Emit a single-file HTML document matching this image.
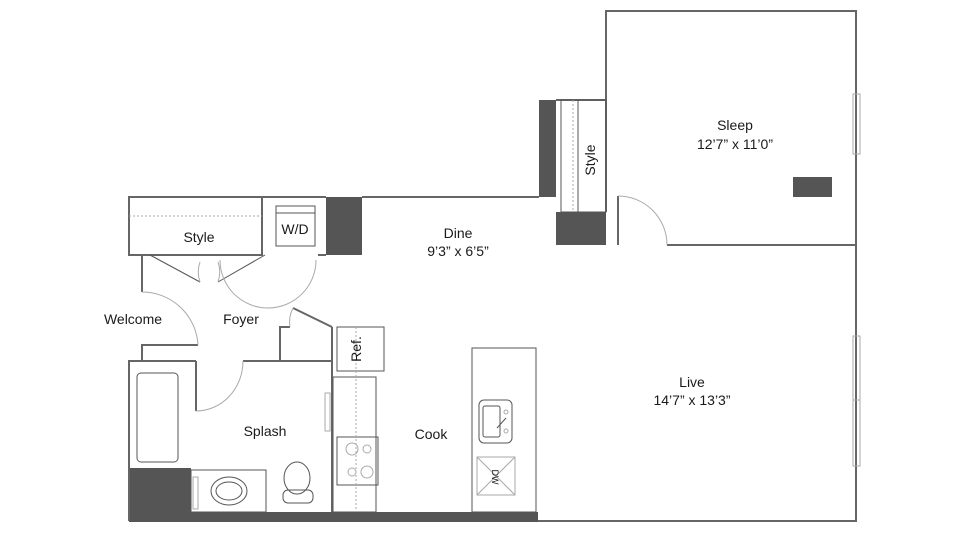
<!DOCTYPE html>
<html><head><meta charset="utf-8"><style>
html,body{margin:0;padding:0;background:#fff}
svg{display:block}
text{font-family:"Liberation Sans",sans-serif;fill:#1a1a1a;font-size:14px;text-anchor:middle}
</style></head><body>
<svg width="960" height="540" viewBox="0 0 960 540" xmlns="http://www.w3.org/2000/svg">
<g fill="#555" stroke="none">
<rect x="326" y="197" width="36" height="58"/>
<rect x="539" y="100" width="17" height="97"/>
<rect x="556" y="212" width="50" height="33"/>
<rect x="191" y="512" width="347" height="10"/>
<rect x="129" y="468" width="62" height="54"/>
<rect x="793" y="177" width="39" height="20"/>
</g>
<g fill="none" stroke="#666" stroke-width="2">
<polyline points="606,100 606,11 856,11 856,521 538,521"/>
<line x1="667" y1="245" x2="856" y2="245"/>
<line x1="362" y1="197" x2="539" y2="197"/>
<polyline points="556,100 606,100"/>
<line x1="606" y1="100" x2="606" y2="212"/>
<line x1="618" y1="196" x2="618" y2="245"/>
<rect x="129" y="197" width="133" height="58"/>
<polyline points="262,197 326,197"/>
<line x1="262" y1="197" x2="262" y2="255"/>
<line x1="318" y1="255" x2="326" y2="255"/>
<line x1="142" y1="255" x2="142" y2="292"/>
<polyline points="142,361 142,345 198,345"/>
<polyline points="129,521 129,361 196,361"/>
<line x1="243" y1="361" x2="332" y2="361"/>
<line x1="196" y1="361" x2="196" y2="411"/>
<polyline points="280,361 280,327 290,327"/>
<line x1="332" y1="327" x2="332" y2="512"/>
<line x1="293" y1="308" x2="332" y2="327"/>
</g>
<g fill="none" stroke="#555" stroke-width="1">
<line x1="150" y1="255" x2="200" y2="282"/>
<line x1="265" y1="255" x2="218" y2="282"/>
<rect x="276" y="206" width="39" height="40"/>
<line x1="276" y1="213" x2="315" y2="213"/>
<rect x="472" y="348" width="64" height="164"/>
<rect x="333" y="377" width="43" height="135"/>
<rect x="337" y="437" width="41" height="48"/>
<rect x="337" y="327" width="47" height="44"/>
<rect x="479" y="400" width="33" height="43" rx="5"/>
<rect x="483" y="406" width="17" height="31" rx="2"/>
<line x1="497" y1="428" x2="506" y2="418"/>
<rect x="137" y="373" width="41" height="89" rx="4"/>
<rect x="191" y="470" width="75" height="42"/>
<ellipse cx="229" cy="491" rx="18" ry="14"/>
<ellipse cx="229" cy="491" rx="13" ry="9"/>
<ellipse cx="297" cy="478" rx="13" ry="16"/>
<rect x="283" y="490" width="30" height="13" rx="5"/>
<rect x="561" y="100" width="45" height="112"/>
<line x1="578" y1="100" x2="578" y2="212"/>
</g>
<g fill="none" stroke="#aaa" stroke-width="1">
<line x1="129" y1="216" x2="262" y2="216" stroke-dasharray="2,2"/>
<path d="M142,292 A56,56 0 0 1 198,345"/>
<path d="M196,411 A47,50 0 0 0 243,361"/>
<path d="M220,260 A48,48 0 0 0 316,260"/>
<path d="M290,327 A30,30 0 0 1 293,308"/>
<path d="M200,282 A30,30 0 0 1 200,262"/>
<path d="M218,282 A30,30 0 0 0 218,262"/>
<path d="M618,196 A49,49 0 0 1 667,245"/>
<line x1="356" y1="327" x2="356" y2="512" stroke-dasharray="2,2"/>
<line x1="573" y1="100" x2="573" y2="212" stroke-dasharray="2,2"/>
<rect x="477" y="457" width="38" height="38"/>
<line x1="477" y1="457" x2="515" y2="495"/><line x1="515" y1="457" x2="477" y2="495"/>
<circle cx="352" cy="449" r="6"/><circle cx="367" cy="449" r="4"/>
<circle cx="352" cy="472" r="4"/><circle cx="367" cy="472" r="6"/>
<circle cx="506" cy="412" r="2"/><circle cx="506" cy="431" r="2"/>
<rect x="853" y="94" width="7" height="60"/>
<rect x="853" y="336" width="7" height="130"/>
<line x1="853" y1="400" x2="860" y2="400"/>
<rect x="325" y="393" width="5" height="38"/>
<rect x="193" y="477" width="5" height="32"/>
</g>
<text x="735" y="130">Sleep</text>
<text x="735" y="149">12’7” x 11’0”</text>
<text x="458" y="238">Dine</text>
<text x="458" y="256">9’3” x 6’5”</text>
<text x="692" y="387">Live</text>
<text x="692" y="405">14’7” x 13’3”</text>
<text x="199" y="242">Style</text>
<text x="295" y="234">W/D</text>
<text x="133" y="324">Welcome</text>
<text x="241" y="324">Foyer</text>
<text x="265" y="436">Splash</text>
<text x="431" y="439">Cook</text>
<text transform="translate(361,349) rotate(-90)">Ref.</text>
<text transform="translate(595,160) rotate(-90)">Style</text>
<text transform="translate(492,477) rotate(90)" style="font-size:9px">DW</text>
</svg>
</body></html>
